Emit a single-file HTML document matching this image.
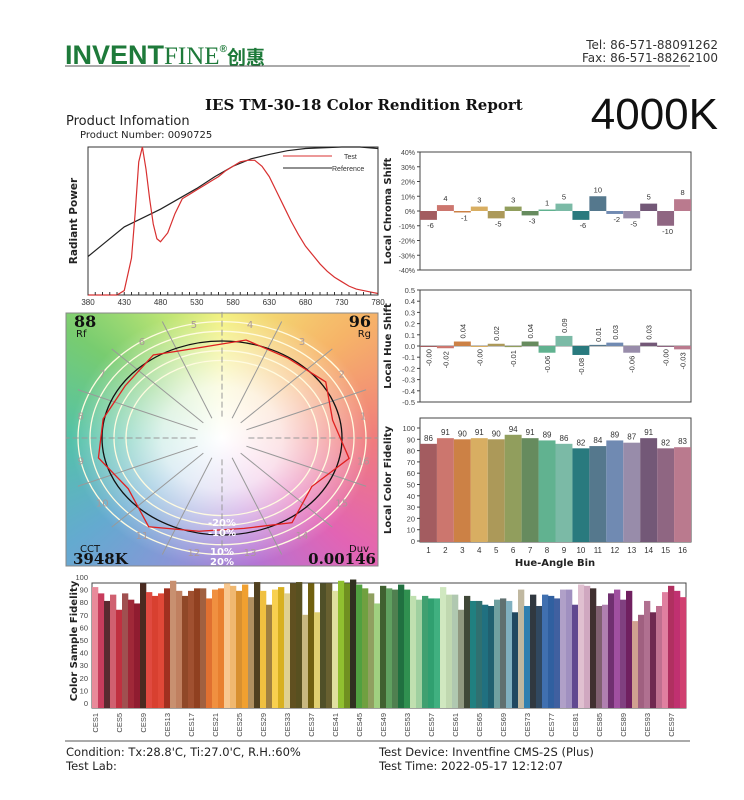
<!DOCTYPE html>
<html><head><meta charset="utf-8"><style>
body{margin:0;background:#fff;width:744px;height:800px;overflow:hidden;position:relative;font-family:"DejaVu Sans","Liberation Sans",sans-serif}
#vg{position:absolute;left:66px;top:313px;width:312px;height:253px;background:radial-gradient(ellipse 55% 58% at 156px 125px,#fff 0%,rgba(255,255,255,.8) 35%,rgba(255,255,255,0) 88%),conic-gradient(from 0deg at 156px 125px,#f2f078 0deg,#f6b468 50deg,#f07c7c 90deg,#e264b4 130deg,#b474d4 165deg,#8c94d8 200deg,#64aad0 235deg,#54c2a8 270deg,#78cc70 305deg,#bce474 335deg,#f2f078 360deg)}
svg{position:absolute;left:0;top:0}
</style></head><body>
<div id="vg"></div>
<svg id="s" width="744" height="800">
<g>
<text x="65" y="64" font-family="Liberation Sans" font-weight="bold" font-size="27" fill="#1e7a3a">INVENT<tspan font-family="Liberation Serif" font-weight="normal" font-size="25">FINE</tspan><tspan font-size="10" dy="-12">®</tspan><tspan font-family="Noto Sans CJK SC" font-size="19" dy="12">创惠</tspan></text>
<line x1="65" y1="66" x2="690" y2="66" stroke="#555"/>
<text x="718" y="49" text-anchor="end" font-size="12" fill="#333">Tel: 86-571-88091262</text>
<text x="718" y="62" text-anchor="end" font-size="12" fill="#333">Fax: 86-571-88262100</text>
<text x="205" y="110" font-family="DejaVu Serif" font-weight="bold" font-size="15" fill="#111">IES TM-30-18 Color Rendition Report</text>
<text x="718" y="129" text-anchor="end" font-family="Liberation Sans" font-size="44" fill="#111">4000K</text>
<text x="66" y="125" font-size="13" fill="#222">Product Infomation</text>
<text x="80" y="138" font-size="10" fill="#222">Product Number: 0090725</text>
</g>
<g id="spec"></g>
<g id="vec"></g>
<g id="chroma"></g>
<g id="hue"></g>
<g id="fid"></g>
<g id="ces"></g>
<g>
<line x1="65" y1="741" x2="690" y2="741" stroke="#555"/>
<text x="66" y="756" font-size="11.5" fill="#222">Condition: Tx:28.8'C, Ti:27.0'C, R.H.:60%</text>
<text x="66" y="770" font-size="11.5" fill="#222">Test Lab:</text>
<text x="379" y="756" font-size="11.5" fill="#222">Test Device: Inventfine CMS-2S (Plus)</text>
<text x="379" y="770" font-size="11.5" fill="#222">Test Time: 2022-05-17 12:12:07</text>
</g>
</svg>
<script>
const binColors=["#A35C60","#CC766E","#CC8145","#D8AE62","#AC9959","#919E5D","#668B5E","#61B290","#7BBAA6","#297A7E","#55788D","#708AB2","#988CAA","#735877","#8F6682","#BA7A8E"];
const chromaVals=[-6,4,-1,3,-5,3,-3,1,5,-6,10,-2,-5,5,-10,8];
const hueVals=[-0.001,-0.02,0.04,-0.001,0.02,-0.01,0.04,-0.06,0.09,-0.08,0.01,0.03,-0.06,0.03,-0.001,-0.03];
const hueLabels=["-0.00","-0.02","0.04","-0.00","0.02","-0.01","0.04","-0.06","0.09","-0.08","0.01","0.03","-0.06","0.03","-0.00","-0.03"];
const fidVals=[86,91,90,91,90,94,91,89,86,82,84,89,87,91,82,83];
const specWl=[380,390,400,410,420,430,440,445,450,455,460,465,470,475,480,490,500,510,520,530,540,550,560,570,580,590,600,610,620,630,640,650,660,670,680,690,700,710,720,730,740,750,760,770,780];
const specTest=[0,0,0,0,0,0.03,0.25,0.55,0.9,1.0,0.85,0.65,0.48,0.38,0.36,0.42,0.55,0.65,0.68,0.71,0.74,0.77,0.8,0.84,0.87,0.9,0.91,0.91,0.87,0.8,0.7,0.6,0.5,0.41,0.33,0.27,0.21,0.16,0.12,0.09,0.06,0.04,0.03,0.02,0.01];
const refWl=[380,405,430,455,480,505,530,555,580,605,630,655,680,705,730,755,780];
const specRef=[0.26,0.36,0.46,0.52,0.58,0.65,0.72,0.8,0.87,0.92,0.95,0.975,0.99,0.995,1.0,1.0,0.99];
const specTicks=[380,430,480,530,580,630,680,730,780];
const cesVals=[92,87,81,86,74,87,82,79,95,88,85,87,91,97,89,85,89,91,91,83,90,91,95,93,89,94,84,96,89,78,90,92,87,95,96,70,95,72,95,95,89,97,95,98,94,91,87,79,93,91,90,94,90,85,82,85,83,83,92,86,86,74,85,81,81,78,77,82,83,81,72,90,77,86,77,86,85,83,90,90,78,94,93,91,77,78,87,90,82,89,65,70,81,72,77,88,93,89,84];
const cesColors=["#e88a9a","#c83c5c","#5a2a30","#d06070","#c03040","#a05050","#a02838","#901c30","#4a2a20","#e04a40","#d84030","#e04838","#a03020","#c89070","#c08060","#904828","#a05030","#904020","#a06040","#e07030","#f09040","#e88030","#f8c890","#f0b870","#d89030","#f0a030","#b09060","#504020","#f0c040","#a08040","#f8d050","#d8b020","#e0d090","#605020","#585020","#c8b880","#706010","#e0d070","#505028","#686030","#e0e0a0","#90c030","#709020","#303020","#50a040","#70a040","#90a060","#a0d080","#406030","#60a060","#508050","#207040","#309050","#c0e0b0","#a0d0a0","#40a070","#30a070","#40b080","#d0e8c0","#c0d8b0","#b0c8b0","#909880","#404838","#208080","#307070","#207080","#206070","#70a0a0","#607070","#80b0c0","#204860","#c0b8a0","#3080b0","#303840","#304860","#4070b0","#3060a0","#4060a0","#b0a0c8","#a090c0","#604890","#e0c0d0","#d0a8c0","#403030","#806070","#b080b0","#703070","#a050a0","#804080","#702060","#d0a090","#a06080","#b07090","#702850","#c07090","#e080a0","#b03060","#c03070","#d04070"];

const NS="http://www.w3.org/2000/svg";
function mk(parent,tag,attrs,name,text){const e=document.createElementNS(NS,tag);for(const k in attrs)e.setAttribute(k,attrs[k]);


if(text!==undefined)e.textContent=text;parent.appendChild(e);return e;}
const F="Liberation Sans";

(function(){const g=document.getElementById('spec');const x0=88,x1=378,y0=147,y1=295;
const X=w=>x0+(w-380)/400*(x1-x0),Y=v=>y1-v*(y1-y0);
mk(g,'rect',{x:x0,y:y0,width:x1-x0,height:y1-y0,fill:'#fff',stroke:'#333'},'spectrum-frame');
mk(g,'path',{d:refWl.map((w,i)=>(i?'L':'M')+X(w)+' '+Y(specRef[i])).join(''),fill:'none',stroke:'#222','stroke-width':1.2},'reference-curve');
mk(g,'path',{d:specWl.map((w,i)=>(i?'L':'M')+X(w)+' '+Y(specTest[i])).join(''),fill:'none',stroke:'#d83030','stroke-width':1.2},'test-curve');
for(let w=380;w<=780;w+=10)mk(g,'line',{x1:X(w),x2:X(w),y1:y1,y2:y1-3,stroke:'#333'},'x-tick');
specTicks.forEach(w=>mk(g,'text',{x:X(w),y:305,'font-size':8,'text-anchor':'middle',fill:'#333','font-family':F},'x-tick-label',w));
mk(g,'text',{transform:'translate(77,221) rotate(-90)','font-size':10.5,'font-weight':'bold','text-anchor':'middle',fill:'#222'},'y-axis-title','Radiant Power');
mk(g,'line',{x1:283,x2:332,y1:156,y2:156,stroke:'#d83030'},'legend-test-line');
mk(g,'text',{x:344,y:159,'font-size':7,fill:'#333','font-family':F},'legend-test','Test');
mk(g,'line',{x1:283,x2:332,y1:168,y2:168,stroke:'#222'},'legend-ref-line');
mk(g,'text',{x:332,y:171,'font-size':7,fill:'#333','font-family':F},'legend-reference','Reference');
})();

(function(){const g=document.getElementById('vec');const cx=222,cy=438,rx=120,ry=97;
mk(g,'rect',{x:66,y:313,width:312,height:253,fill:'none',stroke:'#888'},'cvg-frame');
[0.8,0.9,1.1,1.2].forEach(s=>mk(g,'ellipse',{cx,cy,rx:rx*s,ry:ry*s,fill:'none',stroke:'#fffbe0','stroke-width':1.3},'grid-ellipse'));
for(let k=0;k<16;k++){const a=k*22.5*Math.PI/180;const c=Math.cos(a),s=Math.sin(a);
mk(g,'line',{x1:cx+c*rx*0.22,y1:cy-s*ry*0.22,x2:cx+c*rx*1.3,y2:cy-s*ry*1.3,stroke:'#999','stroke-width':1,'stroke-dasharray':k%4==0?'6 3':''},'spoke');}
for(let i=0;i<16;i++){const a=(i+0.5)*22.5*Math.PI/180;mk(g,'text',{x:cx+Math.cos(a)*rx*1.2,y:cy-Math.sin(a)*ry*1.2+4,'font-size':10,'text-anchor':'middle',fill:'#a99'},'bin-number',i+1);}
mk(g,'ellipse',{cx,cy,rx,ry,fill:'none',stroke:'#111','stroke-width':1.3},'reference-circle');
const pts=chromaVals.map((c,i)=>{const a=(i+0.5)*22.5*Math.PI/180,f=1+c/100;return (cx+Math.cos(a)*rx*f)+','+(cy-Math.sin(a)*ry*f);});
mk(g,'polygon',{points:pts.join(' '),fill:'none',stroke:'#e02020','stroke-width':1.3},'test-polygon');
mk(g,'text',{x:74,y:327,'font-size':16,'font-weight':'bold','font-family':'DejaVu Serif',fill:'#111'},'rf-value','88');
mk(g,'text',{x:76,y:337,'font-size':10,fill:'#111'},'rf-label','Rf');
mk(g,'text',{x:371,y:327,'font-size':16,'font-weight':'bold','font-family':'DejaVu Serif','text-anchor':'end',fill:'#111'},'rg-value','96');
mk(g,'text',{x:371,y:337,'font-size':10,'text-anchor':'end',fill:'#111'},'rg-label','Rg');
mk(g,'text',{x:80,y:552,'font-size':10,fill:'#111'},'cct-label','CCT');
mk(g,'text',{x:73,y:564,'font-size':15,'font-weight':'bold','font-family':'DejaVu Serif',fill:'#111'},'cct-value','3948K');
mk(g,'text',{x:369,y:552,'font-size':10,'text-anchor':'end',fill:'#111'},'duv-label','Duv');
mk(g,'text',{x:376,y:564,'font-size':15,'font-weight':'bold','font-family':'DejaVu Serif','text-anchor':'end',fill:'#111'},'duv-value','0.00146');
[['-20%',526],['-10%',536],['10%',555],['20%',565]].forEach(t=>mk(g,'text',{x:cx,y:t[1],'font-size':10,'font-weight':'bold','text-anchor':'middle',fill:'#fff'},'ring-label',t[0]));
})();

function frame(g,x0,y0,x1,y1){mk(g,'rect',{x:x0,y:y0,width:x1-x0,height:y1-y0,fill:'#fff',stroke:'#444'},'plot-frame');}
const bx0=420,bx1=691,bw=(bx1-bx0)/16;
(function(){const g=document.getElementById('chroma');const y0=152,y1=270;const Y=v=>y0+(40-v)/80*(y1-y0);frame(g,bx0,y0,bx1,y1);
for(let v=-40;v<=40;v+=10){mk(g,'text',{x:415,y:Y(v)+3,'font-size':7,'text-anchor':'end',fill:'#444','font-family':F},'y-tick-label',v+'%');mk(g,'line',{x1:bx0-3,x2:bx0,y1:Y(v),y2:Y(v),stroke:'#444'},'y-tick');}
chromaVals.forEach((v,i)=>{const x=bx0+i*bw;mk(g,'rect',{x,y:Math.min(Y(v),Y(0)),width:bw,height:Math.abs(Y(v)-Y(0)),fill:binColors[i]},'chroma-bar-'+(i+1));
mk(g,'text',{x:x+bw/2+(v<0?2:0),y:v>=0?Y(v)-4:Y(v)+8,'font-size':7.5,'text-anchor':'middle',fill:'#333','font-family':F},'chroma-value',v);});
mk(g,'text',{transform:'translate(391,211) rotate(-90)','font-size':10,'font-weight':'bold','text-anchor':'middle',fill:'#222'},'y-axis-title','Local Chroma Shift');
})();
(function(){const g=document.getElementById('hue');const y0=290,y1=402;const Y=v=>y1-(v+0.5)*(y1-y0);frame(g,bx0,y0,bx1,y1);
for(let k=-5;k<=5;k++){const v=k/10;mk(g,'text',{x:415,y:Y(v)+3,'font-size':7.5,'text-anchor':'end',fill:'#444','font-family':F},'y-tick-label',v.toFixed(1));mk(g,'line',{x1:bx0-3,x2:bx0,y1:Y(v),y2:Y(v),stroke:'#444'},'y-tick');}
mk(g,'line',{x1:bx0,x2:bx1,y1:Y(0),y2:Y(0),stroke:'#888'},'zero-line');
hueVals.forEach((v,i)=>{const x=bx0+i*bw;mk(g,'rect',{x,y:Math.min(Y(v),Y(0)),width:bw,height:Math.max(1,Math.abs(Y(v)-Y(0))),fill:binColors[i]},'hue-bar-'+(i+1));
const ty=v>=0?Y(v)-3:Y(v)+3;mk(g,'text',{transform:`translate(${x+bw/2+3},${ty}) rotate(-90)`,'font-size':7.5,'text-anchor':v>=0?'start':'end',fill:'#333','font-family':F},'hue-value',hueLabels[i]);});
mk(g,'text',{transform:'translate(391,346) rotate(-90)','font-size':10,'font-weight':'bold','text-anchor':'middle',fill:'#222'},'y-axis-title','Local Hue Shift');
})();
(function(){const g=document.getElementById('fid');const y0=418,y1=542;const Y=v=>541-v*1.13;frame(g,bx0,y0,bx1,y1);
for(let v=0;v<=100;v+=10){mk(g,'text',{x:415,y:Y(v)+3,'font-size':7.5,'text-anchor':'end',fill:'#444','font-family':F},'y-tick-label',v);mk(g,'line',{x1:bx0-3,x2:bx0,y1:Y(v),y2:Y(v),stroke:'#444'},'y-tick');}
fidVals.forEach((v,i)=>{const x=bx0+i*bw;mk(g,'rect',{x,y:Y(v),width:bw,height:y1-Y(v),fill:binColors[i]},'fidelity-bar-'+(i+1));
mk(g,'text',{x:x+bw/2,y:Y(v)-3,'font-size':8,'text-anchor':'middle',fill:'#333','font-family':F},'fidelity-value',v);
mk(g,'text',{x:x+bw/2,y:553,'font-size':8,'text-anchor':'middle',fill:'#333','font-family':F},'x-tick-label',i+1);});
mk(g,'text',{transform:'translate(391,480) rotate(-90)','font-size':10,'font-weight':'bold','text-anchor':'middle',fill:'#222'},'y-axis-title','Local Color Fidelity');
mk(g,'text',{x:555,y:566,'font-size':10,'font-weight':'bold','text-anchor':'middle',fill:'#222'},'x-axis-title','Hue-Angle Bin');
})();
(function(){const g=document.getElementById('ces');const x0=92,x1=686,y0=583,y1=708;const w=(x1-x0)/99;const Y=v=>703-v*1.26;frame(g,x0,y0,x1,y1);
for(let v=0;v<=100;v+=10)mk(g,'text',{x:88,y:Y(v)+3,'font-size':7.5,'text-anchor':'end',fill:'#444','font-family':F},'y-tick-label',v);
cesVals.forEach((v,i)=>{const x=x0+i*w;mk(g,'rect',{x,y:Y(v),width:w+0.3,height:y1-Y(v),fill:cesColors[i]},'ces-bar-'+(i+1));
if(i%4==0)mk(g,'text',{transform:`translate(${x+w/2+3},713) rotate(-90)`,'font-size':7.5,'text-anchor':'end',fill:'#444','font-family':F},'x-tick-label','CES'+(i+1));});
mk(g,'text',{transform:'translate(77,641) rotate(-90)','font-size':10,'font-weight':'bold','text-anchor':'middle',fill:'#222'},'y-axis-title','Color Sample Fidelity');
})();
</script>
</body></html>
